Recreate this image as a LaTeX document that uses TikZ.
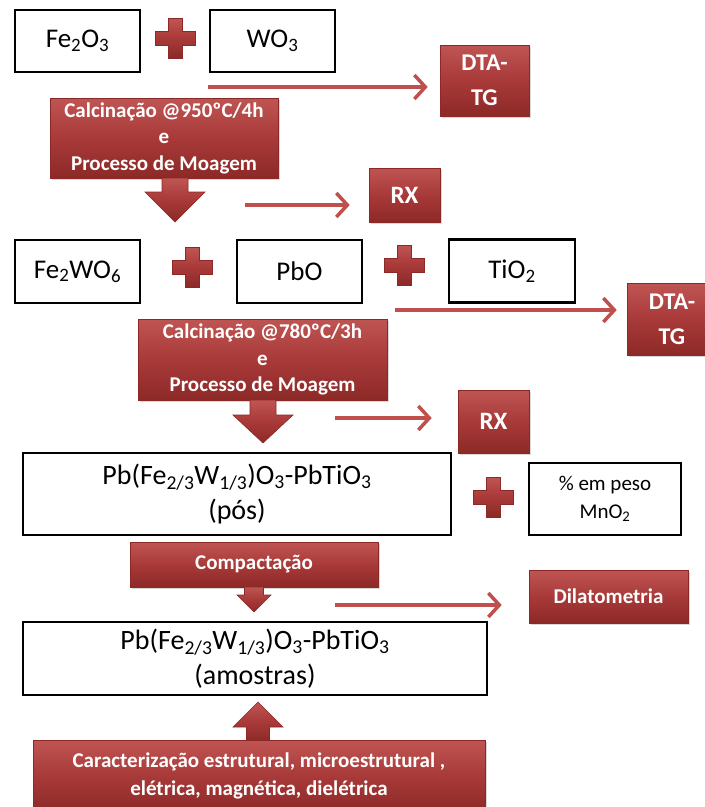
\documentclass[tikz,border=0pt]{standalone}
\usepackage{fontspec}
\setmainfont{Carlito}
\usetikzlibrary{arrows.meta,shadows}

\definecolor{boxred}{HTML}{A83A39}
\definecolor{boxredlight}{HTML}{BF5553}
\definecolor{boxreddark}{HTML}{8C2927}
\definecolor{linkred}{HTML}{C0504D}

\tikzset{
  chem/.style={draw=black, line width=2.5pt, fill=white, inner sep=0pt, align=center,
    font=\fontsize{27}{33}\selectfont},
  proc/.style={draw=boxreddark, line width=0.6pt, top color=boxredlight, bottom color=boxreddark,
    middle color=boxred, drop shadow={opacity=0.3,shadow xshift=2pt,shadow yshift=-2pt},
    text=white, inner sep=0pt, align=center, font=\bfseries\fontsize{21}{26.5}\selectfont},
  bigproc/.style={proc, font=\bfseries\fontsize{24}{35}\selectfont},
  link/.style={draw=linkred, line width=3.5pt, -{Straight Barb[length=11pt,width=24pt,line width=3.5pt]}},
  blockarrow/.style={top color=boxredlight, bottom color=boxreddark, middle color=boxred,
    draw=boxreddark, line width=0.6pt},
  redplus/.pic={\shade[blockarrow] (-7,-20) -- (7,-20) -- (7,-7) -- (20,-7) -- (20,7) -- (7,7)
    -- (7,20) -- (-7,20) -- (-7,7) -- (-20,7) -- (-20,-7) -- (-7,-7) -- cycle;}
}

\begin{document}
\begin{tikzpicture}[x=1pt,y=-1pt]
\useasboundingbox (0,0) rectangle (705,807);
\fill[white] (0,0) rectangle (705,807);

% first mixture
\node[chem, minimum width=125pt, minimum height=62pt] (fe2o3) at (77.5,41) {Fe\textsubscript{2}O\textsubscript{3}};
\node[chem, minimum width=125pt, minimum height=62pt] (wo3) at (272.5,41) {WO\textsubscript{3}};
\pic at (175,38) {redplus};

\node[proc, minimum width=228pt, minimum height=80pt] (calc1) at (164,138)
  {Calcina\c{c}\~ao @950\textordmasculine C/4h\\e\\Processo de Moagem};
\node[bigproc, minimum width=89pt, minimum height=71pt] (dta1) at (484.5,80.5) {DTA-\\TG};
\node[proc, minimum width=71pt, minimum height=54pt, font=\bfseries\fontsize{25}{30}\selectfont] (rx1) at (404.5,195) {RX};

\coordinate (l1) at (208,87);
\draw[link, shorten >=12pt] (l1) -- (l1 -| dta1.west);
\coordinate (l2) at (245,205);
\draw[link, shorten >=19pt] (l2) -- (l2 -| rx1.west);

\shade[blockarrow] (162,178) -- (188,178) -- (188,192) -- (205,192) -- (175,222) -- (145,192) -- (162,192) -- cycle;

% second mixture
\node[chem, minimum width=125pt, minimum height=63pt] (fe2wo6) at (77.5,271.5) {Fe\textsubscript{2}WO\textsubscript{6}};
\node[chem, minimum width=125pt, minimum height=63pt] (pbo) at (299.5,271.5) {PbO};
\node[chem, minimum width=126pt, minimum height=63pt] (tio2) at (512,271) {TiO\textsubscript{2}};
\pic at (192,267) {redplus};
\pic at (404,265) {redplus};

\node[proc, minimum width=249pt, minimum height=81pt] (calc2) at (262.5,359.5)
  {Calcina\c{c}\~ao @780\textordmasculine C/3h\\e\\Processo de Moagem};
\node[bigproc, minimum width=90pt, minimum height=72pt] (dta2) at (672,319) {DTA-\\TG};
\node[proc, minimum width=71pt, minimum height=63pt, font=\bfseries\fontsize{25}{30}\selectfont] (rx2) at (493.5,421.5) {RX};

\coordinate (l3) at (395,310);
\draw[link, shorten >=10pt] (l3) -- (l3 -| dta2.west);
\coordinate (l4) at (335,418);
\draw[link, shorten >=26pt] (l4) -- (l4 -| rx2.west);

\shade[blockarrow] (250,400) -- (276,400) -- (276,415) -- (293,415) -- (263,443) -- (233,415) -- (250,415) -- cycle;

% powders
\node[chem, minimum width=428pt, minimum height=82pt, font=\fontsize{28}{35}\selectfont] (pos) at (237,494)
  {Pb(Fe\textsubscript{2/3}W\textsubscript{1/3})O\textsubscript{3}-PbTiO\textsubscript{3}\\(p\'os)};
\node[chem, minimum width=152pt, minimum height=72pt, font=\fontsize{21}{28}\selectfont] (mno2) at (605,499)
  {\% em peso\\MnO\textsubscript{2}};
\pic at (493,497) {redplus};

\node[proc, minimum width=248pt, minimum height=45pt] (compact) at (254,564.5) {Compacta\c{c}\~ao};
\node[proc, minimum width=159pt, minimum height=53pt] (dila) at (608.5,596.5) {Dilatometria};

\coordinate (l5) at (335,605);
\draw[link, shorten >=27pt] (l5) -- (l5 -| dila.west);

\shade[blockarrow] (244.5,587) -- (263.5,587) -- (263.5,595) -- (271,595) -- (254,612) -- (237,595) -- (244.5,595) -- cycle;

% samples
\node[chem, minimum width=464pt, minimum height=73pt, font=\fontsize{28}{35}\selectfont] (amostras) at (255,658.5)
  {Pb(Fe\textsubscript{2/3}W\textsubscript{1/3})O\textsubscript{3}-PbTiO\textsubscript{3}\\(amostras)};

\shade[blockarrow] (258,702) -- (283,727) -- (269.5,727) -- (269.5,742) -- (246.5,742) -- (246.5,727) -- (233,727) -- cycle;
\node[proc, minimum width=452pt, minimum height=72pt, font=\bfseries\fontsize{21}{28}\selectfont] (carac) at (259,776)
  {Caracteriza\c{c}\~ao estrutural, microestrutural ,\\el\'etrica, magn\'etica, diel\'etrica};
\end{tikzpicture}
\end{document}
